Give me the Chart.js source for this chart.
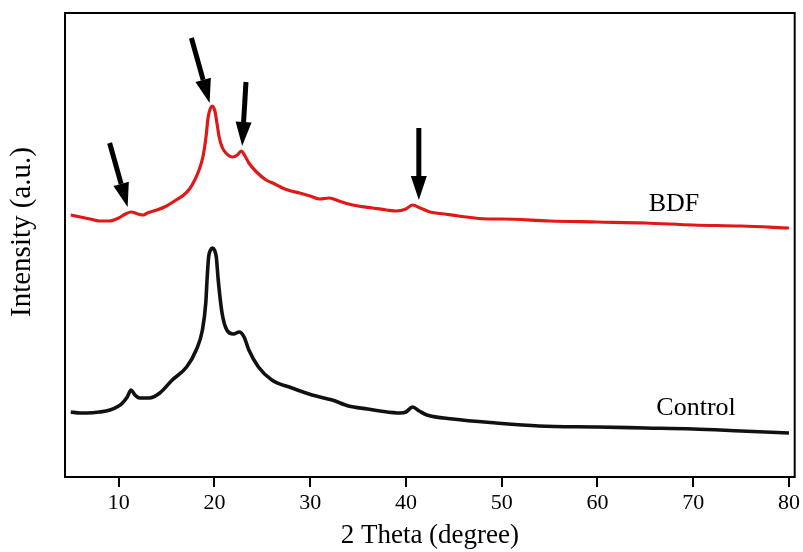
<!DOCTYPE html>
<html>
<head>
<meta charset="utf-8">
<script src="https://cdn.jsdelivr.net/npm/chart.js@4/dist/chart.umd.min.js"></script>
<style>
html,body{margin:0;padding:0;background:#fff;}
canvas{display:block;}
</style>
</head>
<body>
<canvas id="c" width="803" height="552"></canvas>
<script>
// 2θ (degree) positions and intensities (a.u.)
const bdfTheta = [5.0,6.0,7.0,8.0,9.0,10.0,10.7,11.3,12.0,12.6,13.0,14.0,15.0,16.0,16.8,17.4,17.9,18.4,18.8,19.1,19.35,19.6,19.8,20.05,20.25,20.5,20.8,21.2,21.9,22.4,22.8,23.2,23.6,24.4,25.4,26.3,27.1,28.0,28.9,30.0,31.0,32.0,33.0,34.0,35.0,36.5,38.0,39.0,40.0,40.7,41.5,42.5,44.0,45.5,48.5,50.0,55.0,60.0,65.0,70.0,75.0,80.0];
const bdfIntensity = [262,260,258,256,256,259,263,265,263,262,264,267,271,277,282,288,296,307,320,338,360,369,371,366,355,340,330,324,320,322,326,321,314,305,297,293,289,286,284,281,278,279,276,273,271,269,267,266,268,272,269,265,263,261,258,258,256,255,254,252,251,249];

const ctlTheta = [5.0,6.0,6.7,8.0,9.1,10.0,10.4,10.9,11.3,11.7,12.2,13.2,14.3,15.6,17.1,18.1,18.75,19.1,19.25,19.4,19.6,19.8,20.0,20.2,20.4,20.8,21.3,22.0,22.6,23.1,23.6,24.6,26.0,28.1,30.2,32.3,34.0,36.0,37.3,39.4,40.0,40.7,41.4,42.2,44.9,49.4,53.9,60.0,65.0,70.0,75.0,80.0];
const ctlIntensity = [65,64,64,65,67,71,74,80,87,82,79,79,84,97,110,127,147,174,200,220,227,229,227,220,197,164,147,143,145,140,127,110,97,89,82,77,71,68,66,64,65,70,66,62,58,54,51,50,49,48,46,44];

const xTicks = [10,20,30,40,50,60,70,80];

const seriesNames = ['BDF','Control'];
const xTitle = '2 Theta (degree)';
const yTitle = 'Intensity (a.u.)';
// arrows: tail and tip in data coordinates
const arrowTailTheta = [9.06,17.6,23.3,41.35];
const arrowTailIntensity = [334,439,395,349];
const arrowTipTheta = [10.94,19.5,22.9,41.35];
const arrowTipIntensity = [270,374,331,277];

const labelTheta = [68.0,70.3];
const labelIntensity = [266,62];

const SERIF = '"Liberation Serif", "DejaVu Serif", serif';

const framePlugin = {
  id:'frame',
  afterDatasetsDraw(chart){
    const {ctx, chartArea:a, scales} = chart;
    ctx.save();
    ctx.strokeStyle='#000';
    ctx.lineWidth=2;
    ctx.strokeRect(a.left, a.top, a.right-a.left, a.bottom-a.top);
    // arrows
    ctx.fillStyle='#000';
    for(let i=0;i<arrowTailTheta.length;i++){
      const x1=scales.x.getPixelForValue(arrowTailTheta[i]);
      const y1=scales.y.getPixelForValue(arrowTailIntensity[i]);
      const x2=scales.x.getPixelForValue(arrowTipTheta[i]);
      const y2=scales.y.getPixelForValue(arrowTipIntensity[i]);
      const ang=Math.atan2(y2-y1,x2-x1);
      const headLen=24, headW=8;
      const bx=x2-headLen*Math.cos(ang), by=y2-headLen*Math.sin(ang);
      ctx.lineWidth=5;
      ctx.lineCap='butt';
      ctx.beginPath();
      ctx.moveTo(x1,y1);
      ctx.lineTo(bx,by);
      ctx.stroke();
      ctx.beginPath();
      ctx.moveTo(x2,y2);
      ctx.lineTo(bx+headW*Math.sin(ang), by-headW*Math.cos(ang));
      ctx.lineTo(bx-headW*Math.sin(ang), by+headW*Math.cos(ang));
      ctx.closePath();
      ctx.fill();
    }
    // series labels
    ctx.font='26px '+SERIF;
    ctx.textAlign='center';
    ctx.textBaseline='alphabetic';
    ctx.fillStyle='#000';
    for(let i=0;i<seriesNames.length;i++){
      ctx.fillText(seriesNames[i], scales.x.getPixelForValue(labelTheta[i]), scales.y.getPixelForValue(labelIntensity[i]));
    }
    // y axis title
    ctx.save();
    ctx.translate(22, (a.top+a.bottom)/2 - 13);
    ctx.rotate(-Math.PI/2);
    ctx.font='29px '+SERIF;
    ctx.textAlign='center';
    ctx.textBaseline='middle';
    ctx.fillText(yTitle, 0, 0);
    ctx.restore();
    ctx.restore();
  }
};

const toPts=(xs,ys)=>xs.map((x,i)=>({x:x,y:ys[i]}));

new Chart(document.getElementById('c'),{
  type:'line',
  data:{
    datasets:[
      {label:seriesNames[0], data:toPts(bdfTheta,bdfIntensity), borderColor:'#e01818', borderWidth:3.2, pointRadius:0, cubicInterpolationMode:'monotone', fill:false},
      {label:seriesNames[1], data:toPts(ctlTheta,ctlIntensity), borderColor:'#111111', borderWidth:3.6, pointRadius:0, cubicInterpolationMode:'monotone', fill:false}
    ]
  },
  options:{
    responsive:false,
    animation:false,
    events:[],
    layout:{padding:{top:13,right:6,left:0,bottom:0}},
    plugins:{legend:{display:false}, tooltip:{enabled:false}, title:{display:false}},
    scales:{
      x:{
        type:'linear', min:4.4, max:80.6,
        afterBuildTicks:(s)=>{ s.ticks = xTicks.map(v=>({value:v})); },
        afterFit:(s)=>{ s.height = 75; },
        grid:{drawOnChartArea:false, drawTicks:true, tickLength:10, color:'#000', lineWidth:2},
        border:{display:false},
        ticks:{color:'#000', font:{family:SERIF, size:22}, padding:3, maxRotation:0, autoSkip:false},
        title:{display:true, text:xTitle, color:'#000', font:{family:SERIF, size:27}, padding:{top:0,bottom:0}}
      },
      y:{
        min:0, max:464,
        afterFit:(s)=>{ s.width = 65; },
        grid:{display:false},
        border:{display:false},
        ticks:{display:false},
        title:{display:false}
      }
    }
  },
  plugins:[framePlugin]
});
</script>
</body>
</html>
